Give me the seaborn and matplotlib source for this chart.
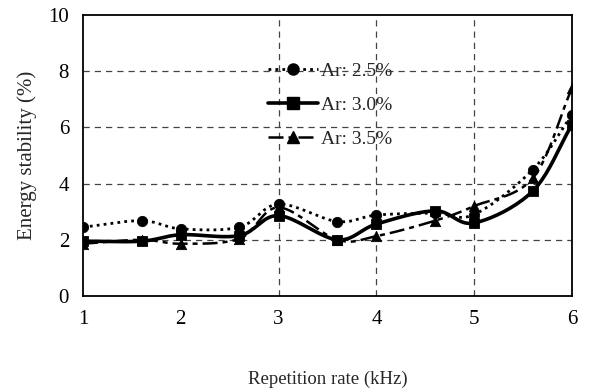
import numpy as np
import pandas as pd
import matplotlib
matplotlib.use('Agg')
import matplotlib.pyplot as plt
import seaborn as sns

rate = [1.0, 1.6, 2.0, 2.6, 3.0, 3.6, 4.0, 4.6, 5.0, 5.6, 6.0]
ar_25 = [2.45, 2.68, 2.39, 2.45, 3.27, 2.65, 2.88, 2.95, 2.9, 4.5, 6.45]
ar_30 = [1.95, 1.95, 2.18, 2.15, 2.86, 2.0, 2.56, 3.03, 2.6, 3.74, 6.1]
ar_35 = [1.86, 2.0, 1.86, 2.04, 3.15, 2.0, 2.13, 2.68, 3.2, 4.2, 7.4]
labels = ['Ar: 2.5%', 'Ar: 3.0%', 'Ar: 3.5%']


# smoothed line like the spreadsheet "smoothed line" option (Catmull-Rom)
def smooth(x, y, n=20):
    x = np.asarray(x); y = np.asarray(y)
    px = np.concatenate([[2 * x[0] - x[1]], x, [2 * x[-1] - x[-2]]])
    py = np.concatenate([[2 * y[0] - y[1]], y, [2 * y[-1] - y[-2]]])
    xs, ys = [], []
    t = np.linspace(0, 1, n, endpoint=False)
    for i in range(1, len(px) - 2):
        p0, p1, p2, p3 = [np.array([px[j], py[j]]) for j in range(i - 1, i + 3)]
        c = 0.5 * (2 * p1[:, None] + (-p0 + p2)[:, None] * t
                   + (2 * p0 - 5 * p1 + 4 * p2 - p3)[:, None] * t ** 2
                   + (-p0 + 3 * p1 - 3 * p2 + p3)[:, None] * t ** 3)
        xs.extend(c[0]); ys.extend(c[1])
    xs.append(x[-1]); ys.append(y[-1])
    return np.array(xs), np.array(ys)


sns.set_style('white')
plt.rcParams['font.family'] = ['Liberation Serif', 'DejaVu Serif']

fig = plt.figure(figsize=(6.12, 3.91), dpi=100)
ax = fig.add_axes([0.1356, 0.243, 0.799, 0.7186])

styles = [
    dict(ls=(0, (1, 1.5)), marker='o', lw=2.0),
    dict(ls='-', marker='s', lw=2.6),
    dict(ls=(0, (6, 2, 2, 2)), marker='^', lw=1.8),
]
handles = []
for vals, lab, st in zip([ar_25, ar_30, ar_35], labels, styles):
    sx, sy = smooth(rate, vals)
    ax.plot(sx, sy, color='black', ls=st['ls'], lw=st['lw'])
    df = pd.DataFrame({'x': rate, 'y': vals})
    sns.scatterplot(data=df, x='x', y='y', ax=ax, marker=st['marker'],
                    color='black', s=55, edgecolor='black', zorder=3)
    h, = ax.plot([], [], color='black', ls=st['ls'], lw=st['lw'],
                 marker=st['marker'], ms=8)
    handles.append(h)

ax.set_xlim(1, 6)
ax.set_ylim(0, 10)
ax.set_xticks([1, 2, 3, 4, 5, 6])
ax.set_yticks([0, 2, 4, 6, 8, 10])
for yv in [2, 4, 6, 8]:
    ax.axhline(yv, color='#444444', ls=(0, (5, 4)), lw=0.9, zorder=0)
for xv in [3, 4, 5]:
    ax.axvline(xv, color='#444444', ls=(0, (5, 4)), lw=0.9, zorder=0)

for s in ax.spines.values():
    s.set_color('black')
    s.set_linewidth(1.3)
ax.tick_params(direction='in', length=4, width=0.8, labelsize=15, pad=10,
               colors='black')
ax.set_xlabel('Repetition rate (kHz)', fontsize=13.5, labelpad=30)
ax.set_ylabel('Energy stability (%)', fontsize=15, labelpad=8)

leg = ax.legend(handles, labels, loc='upper left', bbox_to_anchor=(0.362, 0.86),
                frameon=False, fontsize=14, handlelength=2.6,
                handletextpad=0.15, labelspacing=0.85, borderaxespad=0)

fig.savefig('out.png', dpi=100)
